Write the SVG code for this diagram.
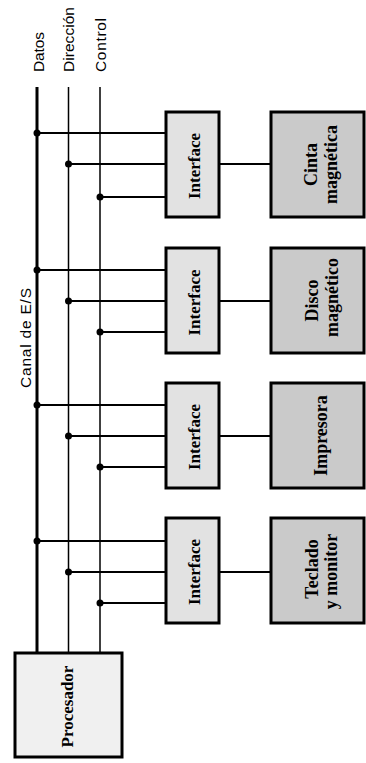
<svg xmlns="http://www.w3.org/2000/svg" width="366" height="763" viewBox="0 0 366 763">
<defs>
<style>
.bus{stroke:#000;fill:none}
.tap{stroke:#000;stroke-width:2;fill:none}
.link{stroke:#000;stroke-width:1.8;fill:none}
.box{stroke:#000;stroke-width:3}
.iface{fill:#e2e2e2}
.dev{fill:#cacaca}
.proc{fill:#f0f0f0}
.dot{fill:#000}
.lbl{font-family:"Liberation Sans",Arial,sans-serif;font-size:15.5px;fill:#000}
.bt{font-family:"Liberation Serif","Times New Roman",serif;font-size:18px;font-weight:bold;fill:#000}
.bs{font-size:17px}
</style>
</defs>
<g id="labels">
<text class="lbl" transform="translate(38,72) rotate(-90)" dominant-baseline="central" text-anchor="start" textLength="40">Datos</text>
<text class="lbl" transform="translate(68.5,72) rotate(-90)" dominant-baseline="central" text-anchor="start" textLength="65">Dirección</text>
<text class="lbl" transform="translate(100,72) rotate(-90)" dominant-baseline="central" text-anchor="start" textLength="54">Control</text>
<text class="lbl" transform="translate(25,338) rotate(-90)" dominant-baseline="central" text-anchor="middle" textLength="100">Canal de E/S</text>
</g>
<g id="connectors">
<line class="bus" x1="37" y1="87" x2="37" y2="653" stroke-width="3"/>
<line class="bus" x1="68.5" y1="87" x2="68.5" y2="653" stroke-width="1.5"/>
<line class="bus" x1="100" y1="87" x2="100" y2="653" stroke-width="1.5"/>
<path class="tap" d="M37 133H166M68.5 164H166M100 197H166"/>
<path class="tap" d="M37 270H166M68.5 301H166M100 332H166"/>
<path class="tap" d="M37 405H166M68.5 436H166M100 467H166"/>
<path class="tap" d="M37 541H166M68.5 572H166M100 603H166"/>
<circle class="dot" cx="37" cy="133" r="3.5"/><circle class="dot" cx="68.5" cy="164" r="3.5"/><circle class="dot" cx="100" cy="197" r="3.5"/>
<circle class="dot" cx="37" cy="270" r="3.5"/><circle class="dot" cx="68.5" cy="301" r="3.5"/><circle class="dot" cx="100" cy="332" r="3.5"/>
<circle class="dot" cx="37" cy="405" r="3.5"/><circle class="dot" cx="68.5" cy="436" r="3.5"/><circle class="dot" cx="100" cy="467" r="3.5"/>
<circle class="dot" cx="37" cy="541" r="3.5"/><circle class="dot" cx="68.5" cy="572" r="3.5"/><circle class="dot" cx="100" cy="603" r="3.5"/>
<path class="link" d="M219 164H271M219 301H271M219 436H271M219 572H271"/>
</g>
<g id="if1"><rect class="box iface" x="166" y="112" width="53" height="105"/><text class="bt bs" transform="translate(194,166) rotate(-90)" dominant-baseline="central" text-anchor="middle">Interface</text></g>
<g id="if2"><rect class="box iface" x="166" y="248" width="53" height="105"/><text class="bt bs" transform="translate(194,302.5) rotate(-90)" dominant-baseline="central" text-anchor="middle">Interface</text></g>
<g id="if3"><rect class="box iface" x="166" y="383" width="53" height="105"/><text class="bt bs" transform="translate(194,437) rotate(-90)" dominant-baseline="central" text-anchor="middle">Interface</text></g>
<g id="if4"><rect class="box iface" x="166" y="518" width="53" height="105"/><text class="bt bs" transform="translate(194,572) rotate(-90)" dominant-baseline="central" text-anchor="middle">Interface</text></g>
<g id="dev1"><rect class="box dev" x="271" y="112" width="93" height="105"/><text class="bt" transform="translate(311,164.5) rotate(-90)" dominant-baseline="central" text-anchor="middle">Cinta</text><text class="bt" transform="translate(331,164.5) rotate(-90)" dominant-baseline="central" text-anchor="middle">magnética</text></g>
<g id="dev2"><rect class="box dev" x="271" y="248" width="93" height="105"/><text class="bt" transform="translate(312,300.5) rotate(-90)" dominant-baseline="central" text-anchor="middle">Disco</text><text class="bt" transform="translate(332,297.5) rotate(-90)" dominant-baseline="central" text-anchor="middle">magnético</text></g>
<g id="dev3"><rect class="box dev" x="271" y="383" width="93" height="105"/><text class="bt" transform="translate(321,435.5) rotate(-90)" dominant-baseline="central" text-anchor="middle">Impresora</text></g>
<g id="dev4"><rect class="box dev" x="271" y="518" width="93" height="105"/><text class="bt" transform="translate(312,569) rotate(-90)" dominant-baseline="central" text-anchor="middle">Teclado</text><text class="bt" transform="translate(331,571.5) rotate(-90)" dominant-baseline="central" text-anchor="middle">y monitor</text></g>
<g id="proc"><rect class="box proc" x="15" y="653" width="107" height="104"/><text class="bt bs" transform="translate(67,706.5) rotate(-90)" dominant-baseline="central" text-anchor="middle">Procesador</text></g>
</svg>
